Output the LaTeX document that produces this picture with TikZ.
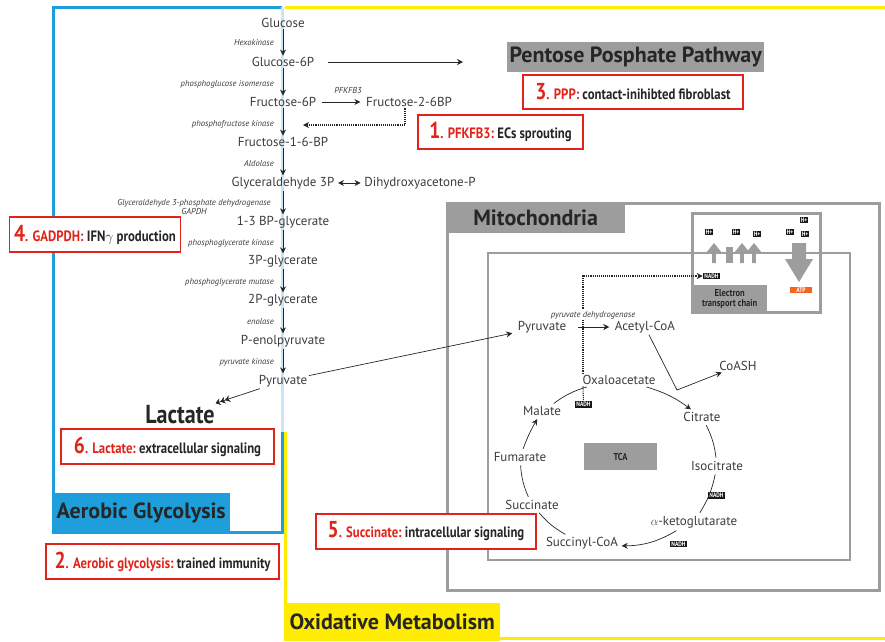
\documentclass[tikz,border=0pt]{standalone}
\usepackage{fontspec}
\setmainfont{PT Sans}
\newfontfamily\condfont[FakeStretch=0.85]{PT Sans}
\usetikzlibrary{positioning,arrows.meta}
\definecolor{glyBlue}{HTML}{1E9FDB}
\definecolor{oxYellow}{HTML}{FFEC00}
\definecolor{mitoGray}{HTML}{9D9D9D}
\definecolor{noteRed}{HTML}{E2231A}
\definecolor{atpOrange}{HTML}{F26522}
\definecolor{metText}{HTML}{3C3C3C}

\begin{document}
\begin{tikzpicture}[
    x=1pt, y=-1pt,
    font=\fontsize{13}{15}\selectfont,
    >={Stealth[length=6pt,width=6pt]},
    met/.style={text=metText, inner sep=1.5pt},
    enz/.style={anchor=east, text=metText, inner sep=0pt, font=\itshape\fontsize{8.6}{9.5}\selectfont},
    flowarr/.style={->, line width=1pt, draw=black!85},
    thinarr/.style={->, line width=0.7pt, draw=black!85},
    cyc/.style={line width=0.7pt, draw=black!85, shorten <=2pt, shorten >=2pt},
    dotarr/.style={->, line width=1.1pt, densely dotted, draw=black!85},
    note/.style={draw=noteRed, line width=1.5pt, fill=white, inner sep=0pt, text=black!85, font=\condfont\bfseries\fontsize{15}{17}\selectfont},
    banner/.style={anchor=north west, inner sep=0pt, text=black!85, font=\bfseries\fontsize{22}{24}\selectfont},
    tag/.style={fill=black!90, text=white, inner xsep=1.5pt, inner ysep=1pt, font=\condfont\bfseries\fontsize{6.5}{7}\selectfont}
  ]
    \useasboundingbox (0,0) rectangle (885,641);

    % frames
    \draw[glyBlue, line width=3pt] (282,432) -- (282,532) -- (53,532) -- (53,7) -- (282,7);
    \draw[glyBlue!25, line width=3pt] (282,7) -- (282,432);
    \draw[oxYellow, line width=3pt] (887,7) -- (285,7);
    \draw[oxYellow, line width=3pt] (285,432) -- (285,638) -- (887,638);

    \node[banner, fill=glyBlue, minimum width=178pt, minimum height=39pt] (aglab) at (52,493) {Aerobic Glycolysis};
    \node[banner, fill=oxYellow, minimum width=216pt, minimum height=38pt] (oxlab) at (284,603) {Oxidative Metabolism};
    \node[banner, fill=mitoGray, minimum width=257pt, minimum height=30pt] (ppp) at (507,42) {Pentose Posphate Pathway};

    % mitochondria
    \draw[mitoGray, line width=3pt] (447,203) rectangle (879,590);
    \node[banner, fill=mitoGray, minimum width=179pt, minimum height=31pt] (mito) at (446,202) {Mitochondria};
    \draw[mitoGray, line width=3pt, fill=white] (692,213) rectangle (820,312);
    \node[banner, fill=mitoGray, minimum width=75pt, minimum height=27pt, align=center, font=\condfont\bfseries\fontsize{10}{10}\selectfont] (etc) at (692,285) {Electron\\transport chain};
    \draw[mitoGray, line width=2.5pt] (488,253) rectangle (850,560);

    \foreach \ux in {714,742,754}
      \fill[mitoGray] (\ux-1.8,263) -- (\ux-1.8,253) -- (\ux-8,253) -- (\ux,243) -- (\ux+8,253) -- (\ux+1.8,253) -- (\ux+1.8,263) -- cycle;
    \fill[mitoGray] (726,247) rectangle (733,263);
    \fill[mitoGray] (792,243) -- (806,243) -- (806,259) -- (813,259) -- (799,282) -- (785,259) -- (792,259) -- cycle;
    \foreach \hx/\hy [count=\hi] in {709/232, 736/232, 757/234, 790/232, 804/220, 805/234}
      \node[tag, inner xsep=0.8pt] (h\hi) at (\hx,\hy) {H+};
    \node[tag] (etcnadh) at (711.5,276) {NADH};
    \node[tag, fill=atpOrange, minimum width=22pt] (atp) at (801,290) {ATP};

    % glycolysis
    \node[met] (glc) at (283,23) {Glucose};
    \node[met] (g6p) at (283,62) {Glucose-6P};
    \node[met] (f6p) at (283,102) {Fructose-6P};
    \node[met] (f26bp) at (409,102) {Fructose-2-6BP};
    \node[met] (f16bp) at (283,142) {Fructose-1-6-BP};
    \node[met] (gap) at (283,183) {Glyceraldehyde 3P};
    \node[met] (dhap) at (420,183) {Dihydroxyacetone-P};
    \node[met] (bpg) at (283,222) {1-3 BP-glycerate};
    \node[met] (pg3) at (283,261) {3P-glycerate};
    \node[met] (pg2) at (283,300) {2P-glycerate};
    \node[met] (pep) at (283,341) {P-enolpyruvate};
    \node[met] (pyr) at (283,381) {Pyruvate};
    \node[text=black!85, font=\condfont\bfseries\fontsize{26}{28}\selectfont, inner sep=1pt] (lact) at (180,415) {Lactate};

    \node[enz] (e1) at (274,43) {Hexokinase};
    \node[enz] (e2) at (274,84) {phosphoglucose isomerase};
    \node[enz] (e3) at (274,124) {phosphofructose kinase};
    \node[enz] (e4) at (274,163) {Aldolase};
    \node[enz, anchor=center, align=center] (e5) at (194,207) {Glyceraldehyde 3-phosphate dehydrogenase\\GAPDH};
    \node[enz] (e6) at (274,243) {phosphoglycerate kinase};
    \node[enz] (e7) at (274,282) {phosphoglycerate mutase};
    \node[enz] (e8) at (274,322) {enolase};
    \node[enz] (e9) at (274,362) {pyruvate kinase};
    \node[enz, anchor=center] (e10) at (348,91) {PFKFB3};

    \foreach \a/\b in {glc/g6p, g6p/f6p, f6p/f16bp, f16bp/gap, gap/bpg, bpg/pg3, pg3/pg2, pg2/pep, pep/pyr}
      \draw[flowarr] (\a) -- (\b);

    \coordinate (pppin) at (463,62);
    \coordinate (pfkin) at (303,125);
    \draw[thinarr] ([xshift=12pt]g6p.east) -- (pppin);
    \draw[thinarr, shorten <=4pt, shorten >=4pt] (f6p) -- (f26bp);
    \draw[dotarr] ([xshift=-4pt]f26bp.south) |- (pfkin);
    \draw[thinarr, <->, shorten <=2pt, shorten >=2pt] (gap) -- (dhap);
    \draw[line width=0.7pt, draw=black!85, -{Stealth[length=5pt,width=7pt] Stealth[length=5pt,width=7pt] Stealth[length=5pt,width=7pt]}, shorten >=4pt] (pyr) -- (lact);

    % TCA cycle
    \node[met] (mpyr) at (542,327) {Pyruvate};
    \node[met] (acoa) at (645,327) {Acetyl-CoA};
    \node[met] (coash) at (738,366) {CoASH};
    \node[met] (oaa) at (619,380) {Oxaloacetate};
    \node[met] (cit) at (702,417) {Citrate};
    \node[met] (icit) at (717,466) {Isocitrate};
    \node[met] (akg) at (694,522) {$\alpha$-ketoglutarate};
    \node[met] (scoa) at (582,543) {Succinyl-CoA};
    \node[met] (suc) at (532,505) {Succinate};
    \node[met] (fum) at (520,457) {Fumarate};
    \node[met] (mal) at (542,411) {Malate};
    \node[fill=mitoGray, minimum width=73pt, minimum height=27pt, inner sep=0pt, text=black!85, font=\condfont\bfseries\fontsize{10}{10}\selectfont] (tca) at (620.5,456.5) {TCA};
    \node[tag] (nadh1) at (583.5,404.5) {NADH};
    \node[tag] (nadh2) at (716.5,495.5) {NADH};
    \node[tag] (nadh3) at (678.5,544) {NADH};

    \draw[thinarr, shorten >=4pt] (pyr) -- (mpyr);
    \draw[dotarr] ([xshift=-36pt]oaa.north) |- (etcnadh);
    \draw[line width=1.1pt, densely dotted, draw=black!85] ([xshift=-36pt]oaa.south) -- (nadh1);
    \node[enz, anchor=center, fill=white, inner sep=1pt] (pdh) at (593,315) {pyruvate dehydrogenase};
    \draw[thinarr, shorten <=10pt, shorten >=4pt] (mpyr) -- (acoa);
    \coordinate (acj) at (677,390);
    \draw[thinarr] (acoa) -- (acj) -- (coash);
    \draw[cyc, ->] (oaa) to[bend left=10] (cit);
    \draw[cyc] (cit) to[bend left=10] (icit);
    \draw[cyc] (icit) to[bend left=10] (akg);
    \draw[cyc, ->] (akg) to[bend left=15] (scoa);
    \draw[cyc] (scoa) to[bend left=10] (suc);
    \draw[cyc] (suc) to[bend left=10] (fum);
    \draw[cyc, ->] (fum) to[bend left=5] (mal);
    \draw[cyc] (mal) to[bend left=10] (oaa);

    % notes
    \node[note, minimum width=165pt, minimum height=34pt] (n1) at (500.5,132) {{\color{noteRed}{\fontsize{23}{23}\selectfont 1}. PFKFB3:}~ECs sprouting};
    \node[note, minimum width=233pt, minimum height=35pt] (n2) at (162.5,561.5) {{\color{noteRed}{\fontsize{23}{23}\selectfont 2}. Aerobic glycolysis:}~trained immunity};
    \node[note, minimum width=220pt, minimum height=34pt] (n3) at (633,92) {{\color{noteRed}{\fontsize{23}{23}\selectfont 3}. PPP:}~contact-inihibted fibroblast};
    \node[note, minimum width=171pt, minimum height=35pt] (n4) at (95,234.5) {{\color{noteRed}{\fontsize{23}{23}\selectfont 4}. GADPDH:}~IFN$\gamma$ production};
    \node[note, minimum width=220pt, minimum height=35pt] (n5) at (426,531.5) {{\color{noteRed}{\fontsize{23}{23}\selectfont 5}. Succinate:}~intracellular signaling};
    \node[note, minimum width=213pt, minimum height=35pt] (n6) at (167.5,446.5) {{\color{noteRed}{\fontsize{23}{23}\selectfont 6}. Lactate:}~extracellular signaling};
  \end{tikzpicture}
\end{document}
